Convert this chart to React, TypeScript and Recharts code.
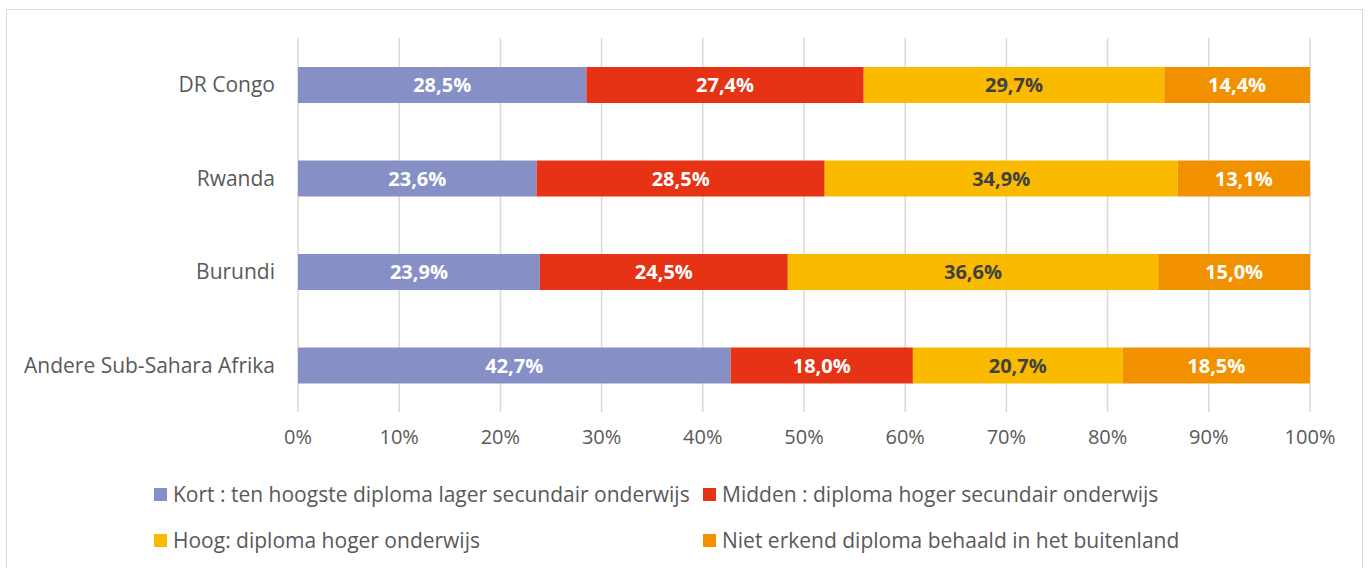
import React from 'react';
import { BarChart, Bar, XAxis, YAxis, CartesianGrid, Legend, LabelList } from 'recharts';

const countries = ['DR Congo', 'Rwanda', 'Burundi', 'Andere Sub-Sahara Afrika'];
const kort = [28.5, 23.6, 23.9, 42.7];
const midden = [27.4, 28.5, 24.5, 18.0];
const hoog = [29.7, 34.9, 36.6, 20.7];
const nietErkend = [14.4, 13.1, 15.0, 18.5];
const xTicks = [0, 0.1, 0.2, 0.3, 0.4, 0.5, 0.6, 0.7, 0.8, 0.9, 1];

const series = [
  { key: 'kort', name: 'Kort : ten hoogste diploma lager secundair onderwijs', color: '#8690C6', label: '#ffffff' },
  { key: 'midden', name: 'Midden : diploma hoger secundair onderwijs', color: '#E63215', label: '#ffffff' },
  { key: 'hoog', name: 'Hoog: diploma hoger onderwijs', color: '#F9BA00', label: '#404040' },
  { key: 'niet', name: 'Niet erkend diploma behaald in het buitenland', color: '#F29100', label: '#ffffff' },
];

const data = countries.map((c, i) => ({
  name: c,
  kort: kort[i],
  midden: midden[i],
  hoog: hoog[i],
  niet: nietErkend[i],
}));

const FONT = '"Open Sans", sans-serif';

const fmtPct = (v: any) => Number(v).toFixed(1).replace('.', ',') + '%';

// legend: 2 x 2 grid, zero height so it doesn't eat into the plot area
const LegendGrid = () => (
  <div style={{ position: 'relative', height: 0 }}>
    {series.map((s, i) => (
      <div
        key={s.key}
        style={{
          position: 'absolute',
          left: i % 2 === 0 ? 154 : 703,
          top: i < 2 ? 0 : 46,
          height: 30,
          display: 'flex',
          alignItems: 'center',
          whiteSpace: 'nowrap',
          fontFamily: FONT,
          fontSize: 21,
          color: '#595959',
        }}
      >
        <span style={{ display: 'inline-block', width: 13, height: 13, background: s.color, marginRight: 6 }} />
        {s.name}
      </div>
    ))}
  </div>
);

export default function App() {
  return (
    <div style={{ position: 'absolute', left: 0, top: 0, width: 1370, height: 568, background: '#fff', overflow: 'hidden' }}>
      <div style={{ position: 'absolute', left: 6, top: 9, width: 1355, height: 570, border: '1px solid #d9d9d9' }} />
      <BarChart
        width={1370}
        height={568}
        data={data}
        layout="vertical"
        stackOffset="expand"
        barSize={36}
        margin={{ top: 38, right: 60, bottom: 126, left: 0 }}
      >
        <CartesianGrid horizontal={false} stroke="#d9d9d9" strokeWidth={1.5} />
        <XAxis
          type="number"
          domain={[0, 1]}
          ticks={xTicks}
          tickFormatter={(v: number) => `${Math.round(v * 100)}%`}
          axisLine={false}
          tickLine={false}
          tickMargin={12}
          height={30}
          tick={{ fontSize: 20, fill: '#595959', fontFamily: FONT }}
        />
        <YAxis
          type="category"
          dataKey="name"
          width={298}
          axisLine={false}
          tickLine={false}
          tickMargin={17}
          tick={{ fontSize: 21, fill: '#595959', fontFamily: FONT }}
        />
        <Legend
          verticalAlign="bottom"
          content={<LegendGrid />}
          wrapperStyle={{ left: 0, top: 479, bottom: 'auto', width: 1370, height: 0 }}
        />
        {series.map((s) => (
          <Bar key={s.key} dataKey={s.key} name={s.name} stackId="a" fill={s.color} isAnimationActive={false}>
            <LabelList
              dataKey={s.key}
              position="center"
              formatter={fmtPct}
              fill={s.label}
              style={{ fontSize: 20, fontWeight: 700, fontFamily: FONT }}
            />
          </Bar>
        ))}
      </BarChart>
    </div>
  );
}
